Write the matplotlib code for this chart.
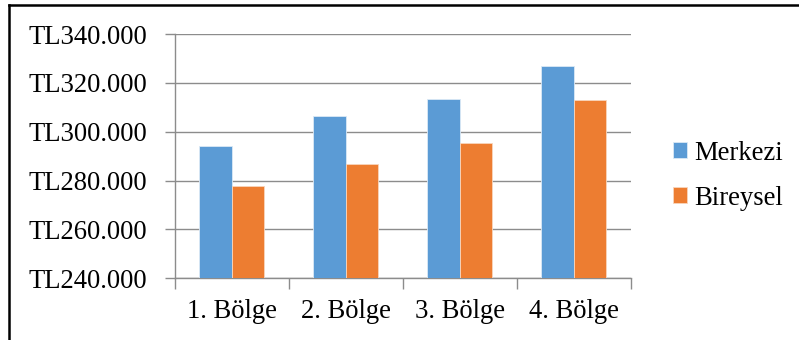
import matplotlib
matplotlib.use('Agg')
import matplotlib.pyplot as plt
from matplotlib.lines import Line2D
from matplotlib.ticker import FuncFormatter, FixedLocator
import numpy as np

bolgeler = ['1. Bölge', '2. Bölge', '3. Bölge', '4. Bölge']
merkezi = [294300, 306400, 313400, 327100]
bireysel = [277800, 286600, 295300, 313100]

plt.rcParams['font.family'] = ['Liberation Serif', 'DejaVu Serif']
fs = 19.2

fig = plt.figure(figsize=(7.99, 3.40), dpi=100)
ax = fig.add_axes([0.219, 0.1815, 0.5707, 0.7185])

x = np.arange(len(bolgeler))
w = 0.285
ax.bar(x - w/2, merkezi, w, color='#5B9BD5', edgecolor='#dbe9f6', linewidth=0.6,
       label='Merkezi', zorder=3)
ax.bar(x + w/2, bireysel, w, color='#ED7D31', edgecolor='#f8d6bd', linewidth=0.6,
       label='Bireysel', zorder=3)

ax.set_xlim(-0.5, 3.5)
ax.set_ylim(240000, 340000)
ax.set_yticks(np.arange(240000, 340001, 20000))
ax.yaxis.set_major_formatter(FuncFormatter(lambda v, p: 'TL{:,.0f}'.format(v).replace(',', '.')))
ax.grid(axis='y', color='#8c8c8c', linewidth=1.0, zorder=0)

# category labels centred, tick marks on the boundaries
ax.set_xticks(x)
ax.set_xticklabels(bolgeler)
ax.xaxis.set_minor_locator(FixedLocator(np.arange(-0.5, 3.6, 1.0)))
ax.tick_params(axis='x', which='major', length=0, pad=15, labelsize=fs)
ax.tick_params(axis='x', which='minor', length=8, color='#8c8c8c', width=1.0)
ax.tick_params(axis='y', length=7, color='#8c8c8c', width=1.0, pad=13, labelsize=fs)

for s in ['top', 'right']:
    ax.spines[s].set_visible(False)
for s in ['left', 'bottom']:
    ax.spines[s].set_color('#8c8c8c')
    ax.spines[s].set_linewidth(1.0)

ax.legend(loc='center left', bbox_to_anchor=(1.062, 0.42), frameon=False,
          fontsize=fs, handlelength=0.55, handleheight=0.55,
          handletextpad=0.25, labelspacing=0.75, borderpad=0)

# frame lines along the left and top edges
fig.add_artist(Line2D([0.0113, 0.0113], [0, 0.985], transform=fig.transFigure,
                      color='black', linewidth=1.8))
fig.add_artist(Line2D([0.0113, 1.0], [0.985, 0.985], transform=fig.transFigure,
                      color='black', linewidth=1.8))

fig.savefig('out.png', dpi=100)
